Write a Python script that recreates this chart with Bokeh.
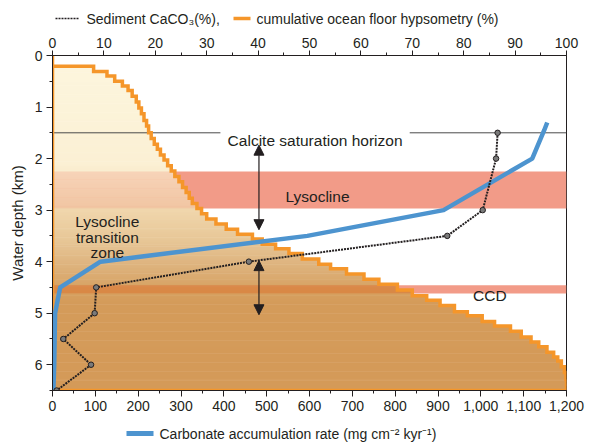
import numpy as np
from bokeh.plotting import figure
from bokeh.layouts import column
from bokeh.core.properties import value
from bokeh.models import (Range1d, LinearAxis, FixedTicker, NumeralTickFormatter,
                          Label, Arrow, NormalHead)
from bokeh.embed import file_html
from bokeh.resources import INLINE

# ---- data -------------------------------------------------------------
# cumulative ocean floor hypsometry: top of each depth bin (km) and cumulative %
hyp_depth = [0.21, 0.31, 0.40, 0.50, 0.59, 0.68, 0.79, 0.90, 1.02, 1.13, 1.26, 1.37,
             1.50, 1.61, 1.72, 1.82, 1.93, 2.03, 2.14, 2.24, 2.35, 2.45, 2.56, 2.66,
             2.77, 2.87, 2.97, 3.07, 3.17, 3.27, 3.37, 3.47, 3.56, 3.66, 3.75, 3.84,
             3.95, 4.05, 4.14, 4.24, 4.34, 4.44, 4.55, 4.66, 4.75, 4.85, 4.97, 5.05,
             5.16, 5.25, 5.35, 5.46, 5.56, 5.65, 5.76, 5.85, 5.93, 6.04, 6.15, 6.28]
hyp_pct = [8.0, 10.6, 12.1, 13.6, 14.7, 15.5, 16.3, 16.8, 17.3, 17.8, 18.3, 18.7,
           19.2, 19.8, 20.4, 21.0, 21.7, 22.4, 23.1, 23.8, 24.6, 25.3, 26.0, 26.6,
           27.2, 28.1, 29.0, 30.0, 31.8, 33.8, 36.0, 38.9, 40.8, 43.4, 46.0, 48.6,
           51.8, 54.1, 57.2, 60.6, 63.5, 67.1, 70.0, 72.8, 75.4, 78.2, 80.7, 83.6,
           86.0, 89.1, 91.2, 93.1, 94.6, 96.2, 97.5, 98.3, 99.0, 99.6, 99.9, 100.0]

# sediment CaCO3 content (%) by water depth (km)
caco3_depth = [1.5, 2.0, 3.0, 3.5, 4.0, 4.5, 5.0, 5.5, 6.0, 6.5]
caco3_pct = [86.6, 86.3, 83.7, 76.8, 38.2, 8.5, 8.2, 2.1, 7.5, 0.8]

# carbonate accumulation rate (mg cm-2 kyr-1) by water depth (km)
car_depth = [1.3, 1.45, 2.0, 3.0, 3.5, 4.0, 4.5, 5.0, 6.0, 6.5]
car_rate = [1155, 1148, 1120, 913, 595, 112, 18, 6, 4, 2]

# horizons (km)
calcite_horizon = 1.5
lysocline = (2.25, 2.97)
ccd = (4.46, 4.62)

depth_ticks = [0, 1, 2, 3, 4, 5, 6]
pct_ticks = list(range(0, 101, 10))
rate_ticks = list(range(0, 1201, 100))

legend_top = ["Sediment CaCO\u2083(%),", "cumulative ocean floor hypsometry (%)"]
legend_bottom = ["Carbonate accumulation rate (mg cm\u207b\u00b2 kyr\u207b\u00b9)"]

# ---- styles ------------------------------------------------------------
FONT = "Liberation Sans"
INK = "#231f20"
ORANGE = "#f5962a"
BLUE = "#4d94cf"
SALMON = "#f29b88"
CCD_DARK = "#dc7430"
DOTS = "2 1"

# vertical colour ramp of the hypsometry fill (depth km -> rgb)
ramp_d = [0.0, 2.1, 3.0, 3.6, 4.1, 4.5, 4.8, 6.5]
ramp_rgb = np.array([(253, 246, 222), (251, 240, 212), (240, 214, 172), (231, 198, 150),
                     (221, 178, 124), (215, 162, 100), (212, 155, 90), (212, 154, 89)], float)


def ramp(d):
    return np.array([np.interp(d, ramp_d, ramp_rgb[:, k]) for k in range(3)])


def hex_rgb(h):
    h = h.lstrip("#")
    return np.array([int(h[i:i + 2], 16) for i in (0, 2, 4)], float)


def to_hex(c):
    c = np.clip(np.round(c), 0, 255).astype(int)
    return "#%02x%02x%02x" % tuple(c)


TOP_H, BOT_H, W = 27, 25, 592
FRAME_L, FRAME_R = 52, 566   # frame edges in page pixels (shared by the strips)

p = figure(width=W, height=445 - TOP_H - BOT_H, x_range=Range1d(0, 1200),
           y_range=Range1d(6.5, 0), output_backend="svg", toolbar_location=None,
           min_border_left=FRAME_L, min_border_right=W - FRAME_R,
           min_border_top=28, min_border_bottom=30)
p.extra_x_ranges = {"pct": Range1d(0, 100)}
p.grid.visible = False
p.outline_line_color = INK
p.outline_line_width = 1
p.background_fill_color = "white"
p.border_fill_color = "white"

# horizon bands across the full width
for top, bot in (lysocline, ccd):
    p.quad(left=0, right=100, top=top, bottom=bot, x_range_name="pct",
           fill_color=SALMON, line_color=None)

# hypsometry fill, sliced finely so it can carry a vertical colour ramp
hd = np.array(hyp_depth)
hp = np.array(hyp_pct)
breaks = np.unique(np.round(np.concatenate([np.arange(0, 6.5001, 0.025), hd,
                                             list(lysocline), list(ccd)]), 4))
L, R, T, B, C = [], [], [], [], []
for a, b in zip(breaks[:-1], breaks[1:]):
    mid = 0.5 * (a + b)
    i = np.searchsorted(hd, mid, side="right") - 1
    if i < 0:
        continue
    col = ramp(mid)
    if lysocline[0] <= mid <= lysocline[1]:
        col = 0.7 * col + 0.3 * hex_rgb(SALMON)
    elif ccd[0] <= mid <= ccd[1]:
        col = 0.45 * col + 0.55 * hex_rgb(CCD_DARK)
    # each slice overlaps the next one a little so no seams show
    L.append(0); R.append(hp[i]); T.append(a); B.append(min(b + 0.012, 6.5))
    C.append(to_hex(col))
p.quad(left=L, right=R, top=T, bottom=B, x_range_name="pct",
       fill_color=C, line_color=None)

# calcite saturation horizon, broken where its label sits
p.segment(x0=[0, 834], x1=[392, 1200], y0=[calcite_horizon] * 2, y1=[calcite_horizon] * 2,
          line_color="#4a4a4a", line_width=1)

# hypsometry outline (closed staircase)
ox = [hp[-1], 0, 0, 0]
oy = [6.5, 6.5, 0, hd[0]]
for k in range(len(hd)):
    ox += [hp[k], hp[k]]
    oy += [hd[k], hd[k + 1] if k + 1 < len(hd) else 6.5]
p.line(ox, oy, x_range_name="pct", line_color=ORANGE, line_width=3.5, line_join="miter")

# carbonate accumulation rate
p.line(car_rate, car_depth, line_color=BLUE, line_width=4.5, line_join="round")

# sediment CaCO3
p.line(caco3_pct, caco3_depth, x_range_name="pct", line_color=INK,
       line_width=2, line_dash=DOTS)
p.scatter(caco3_pct, caco3_depth, x_range_name="pct", size=5.5, marker="circle",
          fill_color="#7a7a7a", line_color=INK, line_width=1)

# depth-range arrows
for y0, y1 in ((1.74, 3.38), (3.98, 5.03)):
    p.add_layout(Arrow(x_start=482, x_end=482, y_start=y0, y_end=y1, line_color=INK,
                       line_width=1.2,
                       start=NormalHead(size=10, fill_color=INK, line_color=INK, line_width=1),
                       end=NormalHead(size=10, fill_color=INK, line_color=INK, line_width=1)))


# annotations
def note(x, y, text, align="center"):
    p.add_layout(Label(x=x, y=y, text=text, text_align=align, text_baseline="alphabetic",
                       text_font=FONT, text_font_size="15.5px", text_color=INK))


note(613, 1.644, "Calcite saturation horizon")
note(544, 2.727, "Lysocline", align="left")
note(1021, 4.65, "CCD")
note(128, 3.224, "Lysocline")
note(128, 3.526, "transition")
note(128, 3.826, "zone")


# axes
def style_axis(ax, tick_out):
    ax.axis_line_color = INK
    ax.major_tick_line_color = INK
    ax.minor_tick_line_color = INK
    ax.major_label_text_font = FONT
    ax.major_label_text_font_size = "14px"
    ax.major_label_text_color = INK
    ax.major_tick_in = 0
    ax.minor_tick_in = 0
    ax.major_tick_out = tick_out
    ax.minor_tick_out = 3


xa = p.xaxis[0]
style_axis(xa, 6)
xa.ticker = FixedTicker(ticks=rate_ticks, minor_ticks=list(range(0, 1201, 50)))
xa.formatter = NumeralTickFormatter(format="0,0")
xa.major_label_standoff = 4

ya = p.yaxis[0]
style_axis(ya, 6)
ya.ticker = FixedTicker(ticks=depth_ticks, minor_ticks=[k * 0.5 for k in range(14)])
ya.major_label_standoff = 4
ya.axis_label = "Water depth (km)"
ya.axis_label_text_font = FONT
ya.axis_label_text_font_size = "15px"
ya.axis_label_text_font_style = "normal"
ya.axis_label_text_color = INK
ya.axis_label_standoff = 6

top = LinearAxis(x_range_name="pct")
style_axis(top, 5)
top.ticker = FixedTicker(ticks=pct_ticks, minor_ticks=list(range(0, 101, 5)))
top.major_label_standoff = 3
p.add_layout(top, "above")


# legend strips above and below the chart; the column aligns their frames with the
# chart frame, so their x range is expressed in page pixels over that frame
def strip(h):
    s = figure(width=W, height=h, x_range=Range1d(FRAME_L, FRAME_R), y_range=Range1d(h, 0),
               output_backend="svg", toolbar_location=None,
               min_border_left=FRAME_L, min_border_right=W - FRAME_R,
               min_border_top=0, min_border_bottom=0,
               x_axis_type=None, y_axis_type=None)
    s.grid.visible = False
    s.outline_line_color = None
    s.background_fill_color = "white"
    s.border_fill_color = "white"
    return s


def legend_text(s, x, y, text):
    s.text(x=[x], y=[y], text=[text], text_font=value(FONT), text_font_size="14px",
           text_color=INK, text_baseline="middle", text_align="left")


lt = strip(TOP_H)
ly = 18
lt.segment(x0=[55], x1=[78], y0=[ly], y1=[ly], line_color=INK, line_width=1.6, line_dash=DOTS)
legend_text(lt, 86, ly, legend_top[0])
lt.segment(x0=[233], x1=[250], y0=[ly], y1=[ly], line_color=ORANGE, line_width=3.5)
legend_text(lt, 256, ly, legend_top[1])

lb = strip(BOT_H)
by = 13
lb.segment(x0=[126], x1=[153], y0=[by], y1=[by], line_color=BLUE, line_width=5)
legend_text(lb, 159, by, legend_bottom[0])

page = column(lt, p, lb, spacing=0)
open("out.html", "w").write(file_html(page, INLINE))
